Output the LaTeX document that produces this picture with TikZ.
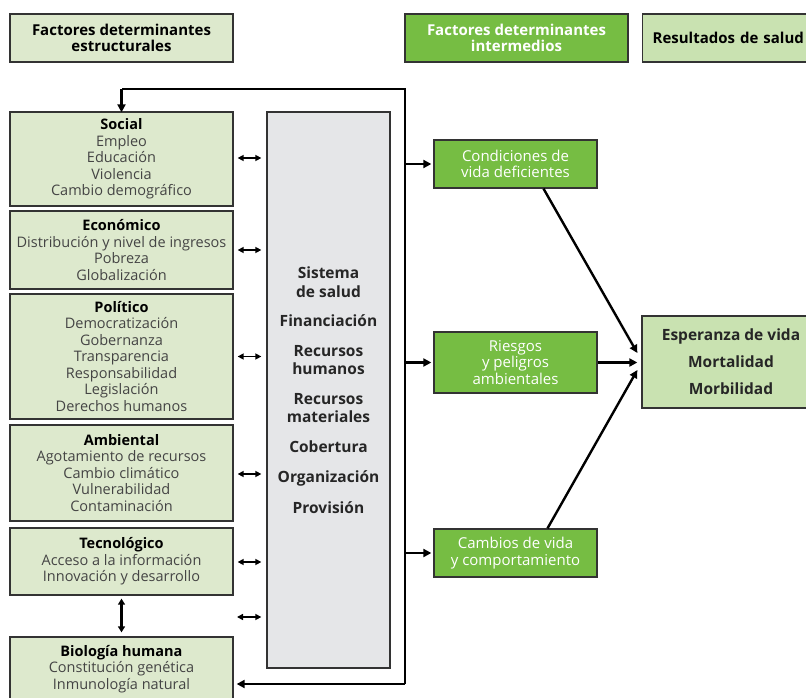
\documentclass[tikz,border=0pt]{standalone}
\usepackage{fontspec}
\setmainfont{Open Sans}
\usetikzlibrary{arrows.meta}
\definecolor{lgreen}{HTML}{DDE9CD}
\definecolor{rgreen}{HTML}{C9E2B1}
\definecolor{mgreen}{HTML}{76BD43}
\definecolor{sgray}{HTML}{E5E6E8}
\definecolor{bord}{HTML}{333333}
\definecolor{body}{HTML}{444444}
\tikzset{
  basebox/.style={draw=bord, line width=1.3pt, inner sep=2pt, align=center},
  leftbox/.style={basebox, fill=lgreen, minimum width=223pt, text=body,
     font=\fontsize{14.5}{16.5}\selectfont},
  midbox/.style={basebox, fill=mgreen, minimum width=163pt, text=white,
     font=\fontsize{15}{16.5}\selectfont},
  headbox/.style={basebox, minimum width=223pt, minimum height=48pt,
     font=\bfseries\fontsize{15}{16}\selectfont},
  conn/.style={line width=2.4pt, -{Triangle[length=8pt,width=8pt]}},
  dbl/.style={line width=1.8pt, {Triangle[length=6pt,width=6pt]}-{Triangle[length=6pt,width=6pt]}}
}
\newcommand{\ttlx}[1]{{\bfseries\color{black}#1}}
\begin{document}
\begin{tikzpicture}[x=1pt,y=-1pt]
\useasboundingbox (0,0) rectangle (806,698);
\clip (0,0) rectangle (806,698);
\fill[white] (0,0) rectangle (806,698);
% headers
\node[headbox, fill=lgreen] (h1) at (121.5,38) {Factores determinantes\\estructurales};
\node[headbox, fill=mgreen, text=white] (h2) at (516.5,38) {Factores determinantes\\intermedios};
\node[headbox, fill=rgreen, minimum width=190pt, anchor=west, align=left, inner xsep=10pt, text width=170pt] (h3) at (642,38) {Resultados de salud};
% left boxes
\node[leftbox, minimum height=94pt] (soc) at (121.5,159) {\ttlx{Social}\\Empleo\\Educación\\Violencia\\Cambio demográfico};
\node[leftbox, minimum height=78pt] (eco) at (121.5,250) {\ttlx{Económico}\\Distribución y nivel de ingresos\\Pobreza\\Globalización};
\node[leftbox, minimum height=125pt] (pol) at (121.5,356.5) {\ttlx{Político}\\Democratización\\Gobernanza\\Transparencia\\Responsabilidad\\Legislación\\Derechos humanos};
\node[leftbox, minimum height=96pt] (amb) at (121.5,473) {\ttlx{Ambiental}\\Agotamiento de recursos\\Cambio climático\\Vulnerabilidad\\Contaminación};
\node[leftbox, minimum height=67pt] (tec) at (121.5,561.5) {\ttlx{Tecnológico}\\Acceso a la información\\Innovación y desarrollo};
\node[leftbox, minimum height=64pt] (bio) at (121.5,669) {\ttlx{Biología humana}\\Constitución genética\\Inmunología natural};
% health system
\node[basebox, fill=sgray, minimum width=123pt, minimum height=556pt,
      font=\bfseries\fontsize{15.5}{18.5}\selectfont, text=black!85] (sys) at (328.5,390)
  {Sistema\\de salud\\[11pt]Financiación\\[11pt]Recursos\\humanos\\[11pt]Recursos\\materiales\\[11pt]Cobertura\\[12pt]Organización\\[12pt]Provisión};
% intermediate
\node[midbox, minimum height=48pt] (cond) at (515.5,164) {Condiciones de\\vida deficientes};
\node[midbox, minimum height=61pt] (ries) at (515.5,362.5) {Riesgos\\y peligros\\ambientales};
\node[midbox, minimum height=48pt] (camb) at (515.5,553) {Cambios de vida\\y comportamiento};
% result
\node[basebox, fill=rgreen, minimum width=178pt, minimum height=92pt,
      font=\bfseries\fontsize{15.5}{27}\selectfont, text=black!85] (res) at (731,362)
  {Esperanza de vida\\Mortalidad\\Morbilidad};
% feedback loop
\coordinate (ftop) at (405,89);
\coordinate (fbot) at (405,684);
\draw[line width=2.4pt, line join=miter] (fbot) -- (ftop) -- (ftop -| soc.north);
\draw[conn] (ftop -| soc.north) -- ([yshift=-1pt]soc.north);
\draw[conn] (fbot) -- ([xshift=3pt]bio.east |- fbot);
% branches
\draw[conn] (cond.west -| ftop) -- ([xshift=-2pt]cond.west);
\draw[conn] (ries.west -| ftop) -- ([xshift=-2pt]ries.west);
\draw[conn] (camb.west -| ftop) -- ([xshift=-2pt]camb.west);
% to result
\draw[conn] ([xshift=28pt]cond.south) -- ([xshift=-4pt,yshift=9pt]res.west);
\draw[conn] (ries.east) -- ([xshift=-4pt]res.west |- ries.east);
\draw[conn] ([xshift=32pt]camb.north) -- ([xshift=-4pt,yshift=-8pt]res.west);
% double arrows
\draw[dbl] ([xshift=4pt]soc.east |- 0,158) -- ([xshift=-5pt]sys.west |- 0,158);
\draw[dbl] ([xshift=4pt]eco.east) -- ([xshift=-5pt]sys.west |- eco.east);
\draw[dbl] ([xshift=4pt]pol.east) -- ([xshift=-5pt]sys.west |- pol.east);
\draw[dbl] ([xshift=4pt]amb.east |- 0,474) -- ([xshift=-5pt]sys.west |- 0,474);
\draw[dbl] ([xshift=4pt]tec.east |- 0,562) -- ([xshift=-5pt]sys.west |- 0,562);
\coordinate (c6) at (237,617);
\draw[dbl] (c6) -- ([xshift=-5pt]sys.west |- c6);
\draw[line width=2.2pt, {Triangle[length=6pt,width=7pt]}-{Triangle[length=6pt,width=7pt]}] ([yshift=-3pt]tec.south) -- ([yshift=4pt]bio.north);
\end{tikzpicture}
\end{document}
